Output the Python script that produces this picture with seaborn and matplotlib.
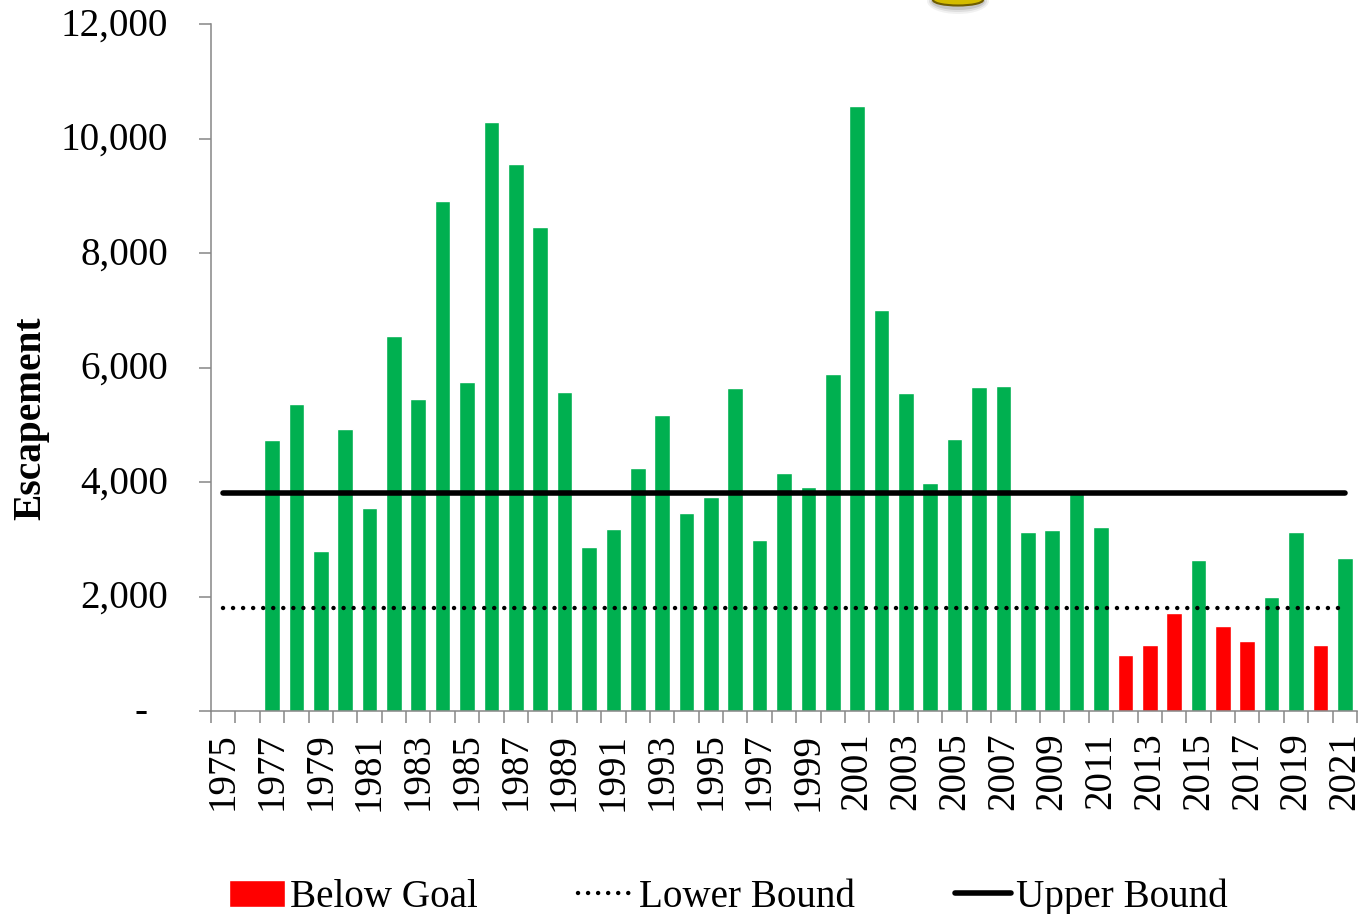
import matplotlib
matplotlib.use('Agg')
import matplotlib.pyplot as plt
from matplotlib.patches import Patch, Ellipse
from matplotlib.lines import Line2D
from matplotlib.transforms import ScaledTranslation
import pandas as pd
import seaborn as sns

years = list(range(1975, 2022))
escapement = [0, 0, 4730, 5370, 2800, 4930, 3550, 6550, 5450, 8900,
              5740, 10290, 9560, 8460, 5570, 2870, 3180, 4240, 5170, 3450,
              3740, 5650, 2980, 4150, 3920, 5890, 10560, 7010, 5560, 3980,
              4750, 5660, 5680, 3120, 3170, 3820, 3210, 975, 1155, 1710,
              2635, 1485, 1225, 1985, 3120, 1155, 2680]
lower_bound = [1800] * len(years)
upper_bound = [3800] * len(years)

df = pd.DataFrame({'year': years, 'escapement': escapement,
                   'lower': lower_bound, 'upper': upper_bound})
df['status'] = ['Below Goal' if 0 < v < 1800 else 'Met' for v in escapement]
df['pos'] = range(len(df))

AXIS_GREY = '#868686'
DOTTED = (0, (0.01, 2.25))

sns.set_theme(style='white')
plt.rcParams['font.family'] = ['Liberation Serif', 'DejaVu Serif']

fig = plt.figure(figsize=(13.61, 9.14), dpi=100)
ax = fig.add_axes([211 / 1361, 1 - 711 / 914, (1357 - 211) / 1361, (711 - 24) / 914])

sns.barplot(data=df, x='year', y='escapement', hue='status',
            palette={'Met': '#00b050', 'Below Goal': '#ff0000'},
            dodge=False, width=0.64, saturation=1, legend=False, ax=ax)

# goal lines run through the category centres
sns.lineplot(data=df, x='pos', y='upper', color='black', lw=4, errorbar=None,
             solid_capstyle='round', ax=ax)
sns.lineplot(data=df, x='pos', y='lower', color='black', lw=3.2, errorbar=None,
             linestyle=DOTTED, dash_capstyle='round', ax=ax)

ax.set_xlim(-0.5, 46.5)
ax.set_ylim(0, 12000)
ax.set_xlabel('')
ax.set_ylabel('Escapement', fontsize=28.4, fontweight='bold', color='black')
ax.yaxis.set_label_coords(-161.5 / (1357 - 211), (711 - 418) / (711 - 24))

ax.set_yticks(range(0, 12001, 2000))
ax.set_yticklabels(['-  '] + [f'{v:,}' for v in range(2000, 12001, 2000)], fontsize=28.2)
ax.set_xticks(range(0, 47, 2))
ax.set_xticklabels([str(y) for y in years[::2]], rotation=90, fontsize=28)
ax.set_xticks([i - 0.5 for i in range(0, 48)], minor=True)

for side in ['top', 'right']:
    ax.spines[side].set_visible(False)
for side in ['left', 'bottom']:
    ax.spines[side].set_color(AXIS_GREY)
    ax.spines[side].set_linewidth(1.1)
ax.tick_params(axis='y', which='major', left=True, length=8.6, width=1.1, color=AXIS_GREY,
               pad=22.5, labelcolor='black')
ax.tick_params(axis='x', which='major', bottom=False, length=0, pad=15.5, labelcolor='black')
ax.tick_params(axis='x', which='minor', bottom=True, length=8.6, width=1.1, color=AXIS_GREY)

# y labels sit a touch higher than matplotlib centres them
shift = ScaledTranslation(0, 2 / 72, fig.dpi_scale_trans)
for lab in ax.get_yticklabels():
    lab.set_transform(lab.get_transform() + shift)

handles = [Patch(facecolor='#ff0000', label='Below Goal'),
           Line2D([0], [0], color='black', lw=3.2, ls=DOTTED, dash_capstyle='round', label='Lower Bound'),
           Line2D([0], [0], color='black', lw=4, solid_capstyle='round', label='Upper Bound')]
fig.legend(handles=handles, loc='lower left', bbox_to_anchor=(229 / 1361, -2 / 914), ncol=3,
           frameon=False, fontsize=28.2, labelcolor='black', columnspacing=2.55, handlelength=1.44,
           handletextpad=0.12, borderpad=0, borderaxespad=0)

# bottom of the clip-art coin cut off by the top edge
for w, h, a in [(62, 26, 0.08), (58, 22, 0.12), (54, 18, 0.18)]:
    fig.add_artist(Ellipse((958 / 1361, 1 - 1 / 914), w / 1361, h / 914, facecolor='#555555',
                           edgecolor='none', alpha=a))
fig.add_artist(Ellipse((958 / 1361, 1), 50 / 1361, 11 / 914, facecolor='#d4bc00', edgecolor='#6e5c00', lw=1.5))

fig.savefig('out.png', dpi=100)
